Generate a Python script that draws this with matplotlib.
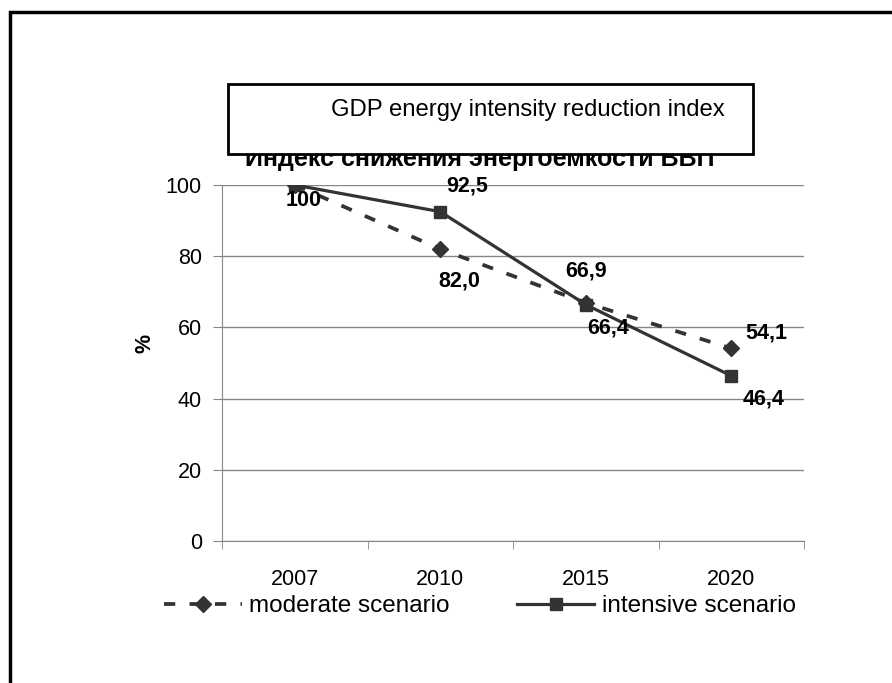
import matplotlib.pyplot as plt
from matplotlib.patches import Rectangle
from matplotlib.lines import Line2D

plt.rcParams['font.family'] = ['Liberation Sans', 'DejaVu Sans']

# данные
years = ['2007', '2010', '2015', '2020']
moderate = [100, 82.0, 66.9, 54.1]
intensive = [100, 92.5, 66.4, 46.4]

W, H = 892, 683
def fx(px):
    return px / W
def fy(py):
    return 1 - py / H

fig = plt.figure(figsize=(W / 100, H / 100), dpi=100)

ax = fig.add_axes([fx(222), fy(541), 582 / W, 356 / H])
x = list(range(len(years)))
dark = '#333333'
grey = '#868686'
dash = (0, (3.0, 3.8))

ax.plot(x, moderate, color=dark, lw=2.7, linestyle=dash,
        marker='D', markersize=8, zorder=3)
ax.plot(x, intensive, color=dark, lw=2.3, marker='s', markersize=9, zorder=4)

def fmt(v):
    return '100' if v == 100 else f'{v:.1f}'.replace('.', ',')

# подписи значений (смещения в пикселях)
mod_off = [(9, -16), (19, -32), (0, 32), (35, 15)]
int_off = [None, (27, 26), (22, -23), (32, -23)]
for xi, v, off in zip(x, moderate, mod_off):
    if off:
        ax.annotate(fmt(v), (xi, v), xytext=(off[0] * 0.72, off[1] * 0.72),
                    textcoords='offset points', ha='center', va='center',
                    fontsize=15.5, fontweight='bold', zorder=6)
for xi, v, off in zip(x, intensive, int_off):
    if off:
        ax.annotate(fmt(v), (xi, v), xytext=(off[0] * 0.72, off[1] * 0.72),
                    textcoords='offset points', ha='center', va='center',
                    fontsize=15.5, fontweight='bold', zorder=6)

ax.set_xlim(-0.5, 3.5)
ax.set_ylim(0, 100)
ax.set_yticks(range(0, 101, 20))
ax.set_xticks(x)
ax.set_xticklabels(years)
ax.set_xticks([i - 0.5 for i in range(len(years) + 1)], minor=True)
ax.tick_params(axis='x', which='major', length=0, pad=20, labelsize=15.5)
ax.tick_params(axis='x', which='minor', length=6, color=grey, direction='out')
ax.tick_params(axis='y', length=6.5, color=grey, pad=8, labelsize=15.5)
ax.yaxis.grid(True, color=grey, lw=1)
ax.set_axisbelow(True)
for s in ['top', 'right']:
    ax.spines[s].set_visible(False)
for s in ['left', 'bottom']:
    ax.spines[s].set_color(grey)

fig.text(fx(145), fy(343), '%', rotation=90, ha='center', va='center',
         fontsize=15.5, fontweight='bold')

# заголовок, закрытый рамкой
fig.text(fx(480), fy(166), 'Индекс снижения энергоемкости ВВП', ha='center',
         va='baseline', fontsize=18, fontweight='bold', zorder=4)
fig.add_artist(Rectangle((fx(228), fy(154)), (753 - 228) / W, 70 / H,
                         transform=fig.transFigure, facecolor='white',
                         edgecolor='black', lw=2, zorder=5))
fig.text(fx(528), fy(110), 'GDP energy intensity reduction index', ha='center',
         va='center', fontsize=17.2, zorder=6)

# внешняя рамка
fig.add_artist(Rectangle((fx(10), -0.1), 1.0, fy(12) + 0.1,
                         transform=fig.transFigure, facecolor='none',
                         edgecolor='black', lw=2.5, zorder=1))

handles = [
    Line2D([], [], color=dark, lw=2.7, linestyle=dash,
           marker='D', markersize=8),
    Line2D([], [], color=dark, lw=2.3, marker='s', markersize=9),
]
fig.legend(handles, ['moderate scenario', 'intensive scenario'],
           loc='center', bbox_to_anchor=(fx(480), fy(606)), ncol=2,
           frameon=False, fontsize=17.5, handlelength=3.2, handletextpad=0.3,
           columnspacing=2.75, numpoints=1)

plt.savefig('out.png', dpi=100)
